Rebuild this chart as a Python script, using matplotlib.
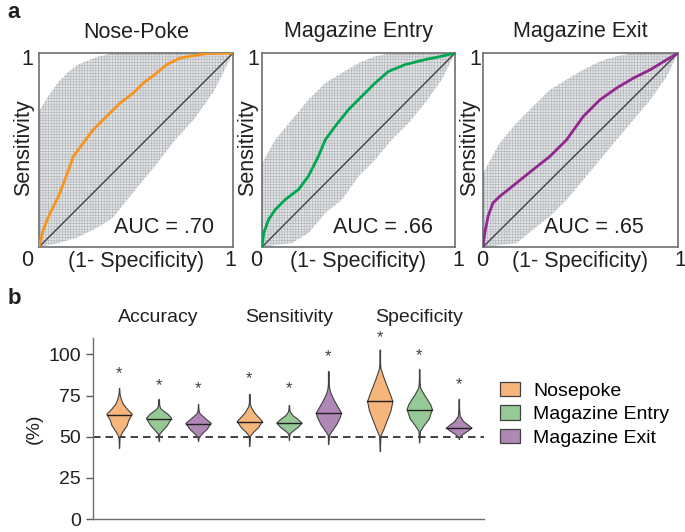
import numpy as np
import matplotlib
matplotlib.use("Agg")
import matplotlib.pyplot as plt
from matplotlib.patches import Patch

plt.rcParams['font.family'] = ['Liberation Sans', 'DejaVu Sans']
plt.rcParams['hatch.linewidth'] = 0.4

# ---------------- data: panel a (ROC) ----------------
roc_titles = ["Nose-Poke", "Magazine Entry", "Magazine Exit"]
roc_auc = [".70", ".66", ".65"]
roc_colors = ["#f7941d", "#00a651", "#92278f"]

nose_fpr = [0, .022, .057, .10, .134, .177, .228, .28, .349, .418, .486, .538, .607, .658, .727, .796, .864, 1]
nose_tpr = [0, .089, .175, .26, .347, .467, .536, .605, .674, .742, .794, .845, .897, .94, .974, .986, .997, 1]
entry_fpr = [0, .009, .034, .069, .121, .19, .241, .293, .328, .379, .448, .517, .586, .655, .741, .845, .931, 1]
entry_tpr = [0, .072, .141, .193, .245, .297, .366, .469, .553, .622, .708, .777, .845, .905, .94, .966, .983, 1]
exit_fpr = [0, .009, .026, .051, .086, .172, .257, .343, .429, .515, .6, .686, .772, .858, .943, 1]
exit_tpr = [0, .072, .158, .227, .261, .33, .399, .467, .553, .674, .759, .82, .871, .914, .966, 1]

# envelopes of the shuffled / bootstrap ROC curves (grey mesh)
nose_env_x = [0, .05, .1, .15, .2, .3, .38, .5, .6, .7, .8, .9, 1]
nose_env_hi = [.70, .78, .85, .90, .94, .98, 1, 1, 1, 1, 1, 1, 1]
nose_env_lo = [0, .01, .02, .035, .05, .10, .15, .30, .42, .55, .66, .80, 1]
entry_env_x = [0, .069, .155, .241, .328, .414, .5, .586, .672, .759, .845, .931, 1]
entry_env_hi = [.43, .553, .656, .76, .845, .897, .948, .983, 1, 1, 1, 1, 1]
entry_env_lo = [0, .01, .02, .072, .175, .244, .364, .45, .553, .639, .742, .862, 1]
exit_env_x = [0, .086, .172, .257, .343, .429, .515, .6, .686, .772, .858, .943, 1]
exit_env_hi = [.38, .536, .639, .725, .81, .863, .914, .957, .983, 1, 1, 1, 1]
exit_env_lo = [0, .01, .02, .09, .158, .244, .347, .45, .553, .656, .759, .88, 1]

roc_curves = [(nose_fpr, nose_tpr), (entry_fpr, entry_tpr), (exit_fpr, exit_tpr)]
roc_envs = [(nose_env_x, nose_env_lo, nose_env_hi),
            (entry_env_x, entry_env_lo, entry_env_hi),
            (exit_env_x, exit_env_lo, exit_env_hi)]

# ---------------- data: panel b (violins) ----------------
metrics = ["Accuracy", "Sensitivity", "Specificity"]
behaviours = ["Nosepoke", "Magazine Entry", "Magazine Exit"]
fill_colors = ["#f6b57a", "#95c995", "#b088b6"]

# density profiles: (value %, relative density)
v_vals = [
    [43.4, 50, 53, 57, 60, 64, 67, 70, 73, 76, 79.7],
    [47.6, 51.8, 54, 57, 61.5, 64, 66, 67.5, 69.5, 72.9],
    [47.6, 50, 52, 55, 58.4, 61, 63, 64.5, 66.5, 69.9],
    [44.6, 50.6, 53, 56, 59.6, 62, 65, 68.7, 71, 76],
    [48.2, 52, 54, 56, 58.6, 61, 63, 65.2, 67, 69.3],
    [45.8, 51.2, 54, 58, 62, 64.6, 68, 72, 76, 78.9, 82, 89.8],
    [41.2, 50.6, 55, 61, 66, 71.7, 76, 81, 86, 91.8, 95, 103],
    [46.6, 53.6, 57, 61, 66.9, 70, 73, 76, 79.7, 83, 91],
    [48.8, 50, 52, 54, 55.6, 57.5, 59.5, 62.7, 66, 72.9],
]
v_dens = [
    [0, .04, .25, .6, .72, 1, .62, .3, .14, .04, 0],
    [0, .05, .3, .65, 1, .7, .35, .12, .04, 0],
    [0, .05, .3, .7, 1, .6, .3, .1, .03, 0],
    [0, .05, .3, .7, 1, .7, .35, .08, .03, 0],
    [0, .05, .35, .7, 1, .65, .3, .08, .03, 0],
    [0, .05, .3, .65, .9, 1, .75, .45, .2, .08, .03, 0],
    [0, .05, .3, .6, .85, 1, .8, .55, .3, .05, .02, 0],
    [0, .06, .35, .75, 1, .85, .6, .35, .08, .03, 0],
    [0, .05, .35, .75, 1, .7, .35, .08, .03, 0],
]
v_medians = [63.3, 60.8, 57.8, 59.2, 58.4, 64.6, 71.5, 66.3, 55.4]
v_star = [88.5, 81.3, 79.5, 85.5, 79.0, 98.8, 110.2, 99.4, 81.9]

# ---------------- figure ----------------
W, H = 685, 532
fig = plt.figure(figsize=(W / 100, H / 100), dpi=100)

def fx(px):
    return px / W

def fy(py):
    return 1 - py / H

txt = "#231f20"
axes_px = [(39, 194), (262, 193), (483, 195)]
zero_x = [27, 256, 482]
one_r_x = [230, 458, 680]
one_t_x = [27, 253, 475]
sens_x = [24, 248, 470]
auc_x = [164, 383, 594]

for i in range(3):
    left, w = axes_px[i]
    ax = fig.add_axes([fx(left), fy(247), w / W, 194 / H])
    ex, elo, ehi = roc_envs[i]
    ax.fill_between(ex, elo, ehi, facecolor="#e2e4e6", edgecolor="none", lw=0, zorder=1)
    ax.fill_between(ex, elo, ehi, facecolor="none", edgecolor="#aeb2b6", hatch="++++++", lw=0, zorder=2)
    ax.plot([0, 1], [0, 1], color="#414042", lw=1.0, zorder=3)
    fp, tp = roc_curves[i]
    ax.plot(fp, tp, color=roc_colors[i], lw=2.0, zorder=4, solid_capstyle="round")
    ax.set_xlim(0, 1)
    ax.set_ylim(0, 1)
    ax.set_xticks([])
    ax.set_yticks([])
    for s in ax.spines.values():
        s.set_color("#6d6e71")
        s.set_linewidth(1.2)
    cx = left + w / 2
    fig.text(fx(cx), fy(32), roc_titles[i], ha="center", va="center", fontsize=15.5, color=txt)
    fig.text(fx(cx), fy(262), "(1- Specificity)", ha="center", va="center", fontsize=15.5, color=txt)
    fig.text(fx(zero_x[i]), fy(261), "0", ha="center", va="center", fontsize=15.5, color=txt)
    fig.text(fx(one_r_x[i]), fy(261), "1", ha="center", va="center", fontsize=15.5, color=txt)
    fig.text(fx(one_t_x[i]), fy(60), "1", ha="center", va="center", fontsize=15.5, color=txt)
    fig.text(fx(sens_x[i]), fy(148), "Sensitivity", ha="center", va="center", rotation=90,
             fontsize=15.5, color=txt)
    fig.text(fx(auc_x[i]), fy(227), "AUC = " + roc_auc[i], ha="center", va="center",
             fontsize=15.5, color=txt)

fig.text(fx(14), fy(13), "a", ha="center", va="center", fontsize=16, fontweight="bold", color=txt)
fig.text(fx(14), fy(298), "b", ha="center", va="center", fontsize=16, fontweight="bold", color=txt)

# ---------------- panel b ----------------
axb = fig.add_axes([fx(93), fy(519), 391 / W, 181 / H])
positions = [0, 1, 2, 3.3, 4.3, 5.3, 6.6, 7.6, 8.6]
half_w = 0.32
for k in range(9):
    x0 = positions[k]
    col = fill_colors[k % 3]
    yv = np.asarray(v_vals[k])
    dv = np.asarray(v_dens[k])
    axb.plot([x0, x0], [yv[0], yv[-1]], color="#58595b", lw=0.9, zorder=2)
    axb.fill_betweenx(yv, x0 - dv * half_w, x0 + dv * half_w, facecolor=col,
                      edgecolor="#414042", lw=0.8, zorder=3)
    m = v_medians[k]
    mw = np.interp(m, yv, dv) * half_w
    axb.plot([x0 - mw, x0 + mw], [m, m], color="#231f20", lw=1.0, zorder=4)
    axb.text(x0, v_star[k], "*", ha="center", va="center", fontsize=12, color="#414042")

for j, name in enumerate(metrics):
    axb.text(positions[3 * j + 1], 122.3, name, ha="center", va="center", fontsize=14,
             color=txt, clip_on=False)

axb.axhline(50, color="#231f20", lw=1.2, ls=(0, (4.5, 3)), zorder=1)
axb.set_xlim(-0.66, 9.24)
axb.set_ylim(0, 110)
axb.set_yticks([0, 25, 50, 75, 100])
axb.set_xticks([])
axb.tick_params(axis="y", labelsize=14, colors="#58595b", labelcolor=txt, length=5, width=1)
axb.spines["top"].set_visible(False)
axb.spines["right"].set_visible(False)
for s in ("left", "bottom"):
    axb.spines[s].set_color("#6d6e71")
    axb.spines[s].set_linewidth(1.0)
axb.set_ylabel("(%)", fontsize=14, color=txt, labelpad=4)

handles = [Patch(facecolor=c, edgecolor="#414042", lw=0.9) for c in fill_colors]
fig.legend(handles, behaviours, loc="upper left", bbox_to_anchor=(fx(500), fy(382)),
           frameon=False, fontsize=14, handlelength=1.05, handleheight=0.75,
           handletextpad=0.65, labelspacing=0.28, borderpad=0, borderaxespad=0)

fig.savefig("out.png", dpi=100)
